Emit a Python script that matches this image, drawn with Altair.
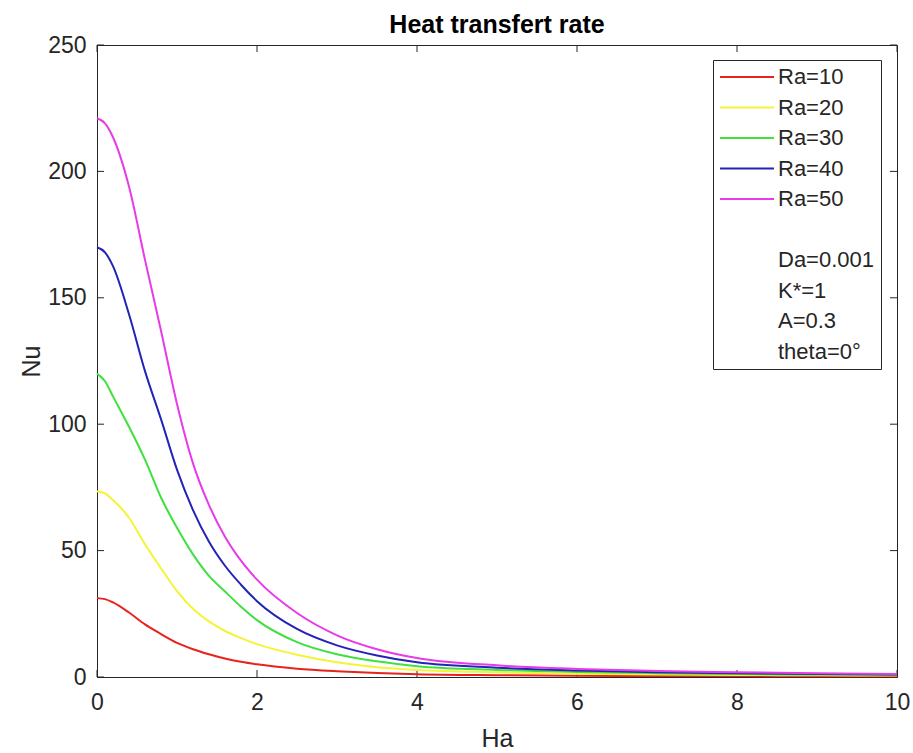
import altair as alt
import pandas as pd

# ---- data ----
ha = [0, 0.1, 0.2, 0.4, 0.6, 0.8, 1.0, 1.2, 1.4, 1.6, 1.8, 2.0, 2.5, 3.0, 3.5, 4.0, 5.0, 6.0, 7.0, 8.0, 9.0, 10.0]
nu_ra10 = [31.2, 30.8, 29.5, 25.5, 20.8, 17.0, 13.5, 11.0, 9.0, 7.3, 6.0, 5.0, 3.3, 2.3, 1.6, 1.1, 0.7, 0.5, 0.4, 0.35, 0.3, 0.3]
nu_ra20 = [73.5, 72.6, 70.0, 63.0, 52.5, 43.0, 34.0, 27.0, 22.0, 18.2, 15.4, 13.0, 8.8, 5.8, 3.9, 2.8, 1.9, 1.3, 1.0, 0.8, 0.65, 0.55]
nu_ra30 = [120.0, 117.0, 111.0, 99.0, 86.0, 71.0, 59.0, 48.5, 40.0, 33.8, 27.8, 22.5, 13.8, 9.0, 6.2, 4.3, 2.8, 2.0, 1.5, 1.2, 0.95, 0.8]
nu_ra40 = [170.0, 168.0, 162.5, 143.5, 121.0, 102.0, 82.0, 66.0, 53.5, 44.0, 36.5, 30.0, 19.0, 12.5, 8.5, 5.8, 3.7, 2.6, 1.9, 1.5, 1.2, 1.0]
nu_ra50 = [221.0, 219.0, 213.5, 194.0, 165.0, 137.0, 108.0, 84.5, 68.0, 55.5, 46.0, 38.5, 25.3, 16.5, 11.0, 7.5, 4.6, 3.2, 2.4, 1.9, 1.5, 1.2]

series_names = ["Ra=10", "Ra=20", "Ra=30", "Ra=40", "Ra=50"]
series_values = [nu_ra10, nu_ra20, nu_ra30, nu_ra40, nu_ra50]
series_colors = ["#e8221c", "#f4f436", "#3fe03f", "#2323b8", "#e83ae8"]

extra_labels = [" ", "Da=0.001", "K*=1", "A=0.3", "theta=0°"]

x_ticks = [0, 2, 4, 6, 8, 10]
y_ticks = [0, 50, 100, 150, 200, 250]

# ---- build tables ----
rows = []
for name, vals in zip(series_names, series_values):
    for h, v in zip(ha, vals):
        rows.append({"Ha": h, "Nu": v, "series": name})
df = pd.DataFrame(rows)

xt = pd.DataFrame({"t": x_ticks})
yt = pd.DataFrame({"t": y_ticks})

FONT = "Liberation Sans"
AX = "#262626"
W, H = 800, 632

legend_domain = series_names + extra_labels
legend_range = series_colors + ["transparent"] * len(extra_labels)

xscale = alt.Scale(domain=[0, 10], nice=False)
yscale = alt.Scale(domain=[0, 250], nice=False)

lines = alt.Chart(df).mark_line(strokeWidth=2, interpolate="monotone").encode(
    x=alt.X("Ha:Q", scale=xscale,
            axis=alt.Axis(values=x_ticks, title="Ha", grid=False, ticks=False, format="d",
                          labelPadding=14, labelFlush=False, labelOverlap=False,
                          titleY=69, titleBaseline="alphabetic",
                          titleFontSize=25, titleFontWeight="normal")),
    y=alt.Y("Nu:Q", scale=yscale,
            axis=alt.Axis(values=y_ticks, title="Nu", grid=False, ticks=False, format="d",
                          labelPadding=11, labelFlush=False, labelOverlap=False,
                          titleX=-58, titleY=316, titleAngle=270,
                          titleBaseline="alphabetic", titleAlign="center",
                          titleFontSize=25, titleFontWeight="normal")),
    color=alt.Color("series:N",
                    scale=alt.Scale(domain=legend_domain, range=legend_range),
                    legend=alt.Legend(title=None, orient="none", legendX=616, legendY=15,
                                      symbolType="stroke", symbolSize=2916,
                                      symbolStrokeWidth=2, labelOffset=3,
                                      clipHeight=22, rowPadding=8.5,
                                      labelFontSize=22, labelFont=FONT, labelColor=AX,
                                      strokeColor=AX, fillColor="white", padding=6,
                                      labelLimit=300)),
)

tick_style = dict(color=AX, strokeWidth=1)
xt_bottom = alt.Chart(xt).mark_rule(**tick_style).encode(
    x=alt.X("t:Q", scale=xscale), y=alt.value(H), y2=alt.value(H - 7))
xt_top = alt.Chart(xt).mark_rule(**tick_style).encode(
    x=alt.X("t:Q", scale=xscale), y=alt.value(0), y2=alt.value(7))
yt_left = alt.Chart(yt).mark_rule(**tick_style).encode(
    y=alt.Y("t:Q", scale=yscale), x=alt.value(0), x2=alt.value(7))
yt_right = alt.Chart(yt).mark_rule(**tick_style).encode(
    y=alt.Y("t:Q", scale=yscale), x=alt.value(W), x2=alt.value(W - 7))

chart = alt.layer(xt_bottom, xt_top, yt_left, yt_right, lines).properties(
    width=W, height=H,
    title=alt.TitleParams("Heat transfert rate", fontSize=25, fontWeight="bold",
                          font=FONT, color="#000000", anchor="middle", offset=10, dy=14),
    autosize=alt.AutoSizeParams(type="none"),
    padding={"left": 97, "top": 45, "right": 16, "bottom": 76},
    background="white",
).configure_view(
    stroke=AX, strokeWidth=1
).configure_axis(
    labelFont=FONT, titleFont=FONT, labelColor=AX, titleColor=AX,
    labelFontSize=23, domainColor=AX, domainWidth=1,
)

chart.save("out.html", embed_options={"renderer": "svg", "actions": False})
